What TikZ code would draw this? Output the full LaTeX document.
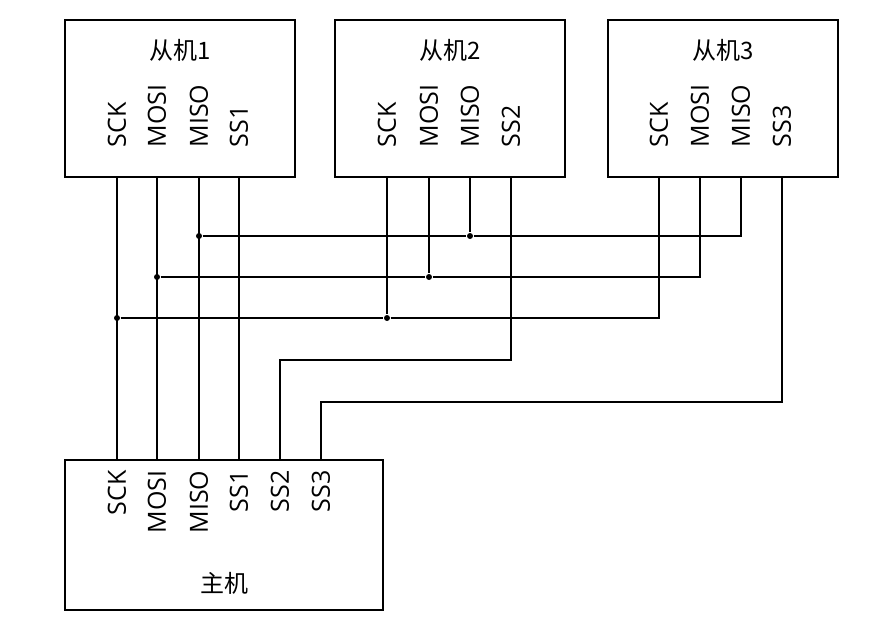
\documentclass[tikz,border=0pt]{standalone}
\usepackage{fontspec}
\setmainfont{Open Sans}
\newfontfamily\cjk{Noto Sans CJK SC}
\begin{document}
\begin{tikzpicture}[x=1pt, y=-1pt, line width=1.2pt,
  box/.style={draw, line width=1.6pt},
  pin/.style={rotate=90, inner sep=0pt, font=\fontsize{25}{28}\selectfont},
  title/.style={font=\cjk\fontsize{24}{28}\selectfont},
  dot/.style={circle, fill, inner sep=0pt, minimum size=6pt}]
\useasboundingbox (0,0) rectangle (873,631);
%
\draw[box] (65,20) rectangle (295,177);
\draw[box] (335,20) rectangle (565,177);
\draw[box] (608,20) rectangle (838,177);
\draw[box] (65,460) rectangle (383,610);
%
\node[title] (t1) at (180,50) {从机1};
\node[title] (t2) at (450,50) {从机2};
\node[title] (t3) at (723,50) {从机3};
\node[title] (tm) at (224,583) {主机};
%
\foreach \n/\x/\t in {1/117/SCK, 2/157/MOSI, 3/199/MISO, 4/239/SS1,
                      5/387/SCK, 6/429/MOSI, 7/470/MISO, 8/511/SS2,
                      9/659/SCK, 10/700/MOSI, 11/741/MISO, 12/782/SS3} {
  \node[pin, anchor=west] at (\x,148) {\t};
  \coordinate (s\n) at (\x,177);
}
\foreach \n/\x/\t in {1/117/SCK, 2/157/MOSI, 3/199/MISO, 4/239/SS1,
                      5/280/SS2, 6/321/SS3} {
  \node[pin, anchor=east] at (\x,470) {\t};
  \coordinate (m\n) at (\x,460);
}
%
\node[dot] (d1) at (199,236) {};
\node[dot] (d2) at (470,236) {};
\node[dot] (d3) at (157,277) {};
\node[dot] (d4) at (429,277) {};
\node[dot] (d5) at (117,318) {};
\node[dot] (d6) at (387,318) {};
%
\draw (s1) -- (m1) (s2) -- (m2) (s3) -- (m3) (s4) -- (m4);
\draw (s7) -- (d2) (s6) -- (d4) (s5) -- (d6);
\draw (d1) -- (d2) -| (s11);
\draw (d3) -- (d4) -| (s10);
\draw (d5) -- (d6) -| (s9);
\draw (s8) |- (280,360) -- (m5);
\draw (s12) |- (321,402) -- (m6);
\end{tikzpicture}
\end{document}
